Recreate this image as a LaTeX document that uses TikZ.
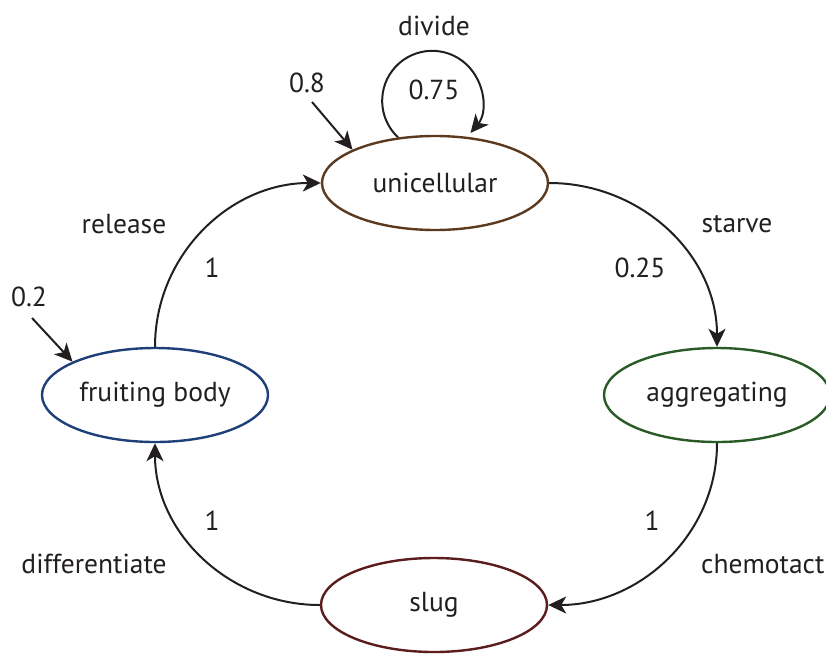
\documentclass[tikz,border=0pt]{standalone}
\usepackage{fontspec}
\setmainfont{PT Sans}
\usetikzlibrary{shapes.geometric,arrows.meta}
\definecolor{ucol}{HTML}{5B3A1F}
\definecolor{fcol}{HTML}{1F3F78}
\definecolor{acol}{HTML}{2A5A26}
\definecolor{scol}{HTML}{5A1C1C}
\definecolor{ink}{HTML}{231F20}
\tikzset{
  state/.style={ellipse, draw, line width=2.4pt, minimum width=226pt, minimum height=94pt,
    inner sep=0pt, text=ink, font=\fontsize{27.5}{32}\selectfont},
  edge/.style={draw=ink, line width=2pt, -{Stealth[length=18pt,width=17pt,inset=5pt]}},
  lbl/.style={text=ink, font=\fontsize{27.5}{32}\selectfont, inner sep=0pt}
}
\begin{document}
\begin{tikzpicture}[x=1pt,y=-1pt]
  \useasboundingbox (0,0) rectangle (826,653);
  \clip (0,0) rectangle (826,653);

  % states
  \node[state, draw=ucol] (u) at (435,183) {unicellular};
  \node[state, draw=fcol] (f) at (155,395) {fruiting body};
  \node[state, draw=acol] (a) at (717,395) {aggregating};
  \node[state, draw=scol] (s) at (434,605) {slug};

  % transitions around the cycle
  \draw[edge] (u.east) to[out=0,in=90] (a.north);
  \draw[edge] (a.south) to[out=-90,in=0] (s.east);
  \draw[edge] (s.west) to[out=180,in=-90] (f.south);
  \draw[edge] (f.north) to[out=90,in=180] (u.west);

  % self loop on unicellular (y axis points down, so angles run clockwise)
  \draw[edge] (u.129) arc[start angle=133, end angle=400, radius=50];

  % initial probabilities
  \coordinate (i1) at (312,102);
  \coordinate (i2) at (32,318);
  \draw[edge] (i1) -- (u.158);
  \draw[edge] (i2) -- (f.158);

  % labels
  \node[lbl] (ldiv) at (434,26) {divide};
  \node[lbl] (p075) at (434,90) {0.75};
  \node[lbl] (p08) at (307,83) {0.8};
  \node[lbl] (lrel) at (124,224) {release};
  \node[lbl] (p1a) at (212,268) {1};
  \node[lbl] (lstv) at (737,224) {starve};
  \node[lbl] (p025) at (640,268) {0.25};
  \node[lbl] (p02) at (29,297) {0.2};
  \node[lbl] (p1b) at (212,521) {1};
  \node[lbl] (ldif) at (94,564) {differentiate};
  \node[lbl] (p1c) at (652,521) {1};
  \node[lbl, anchor=west] (lchm) at (701,564) {chemotact};
\end{tikzpicture}
\end{document}
